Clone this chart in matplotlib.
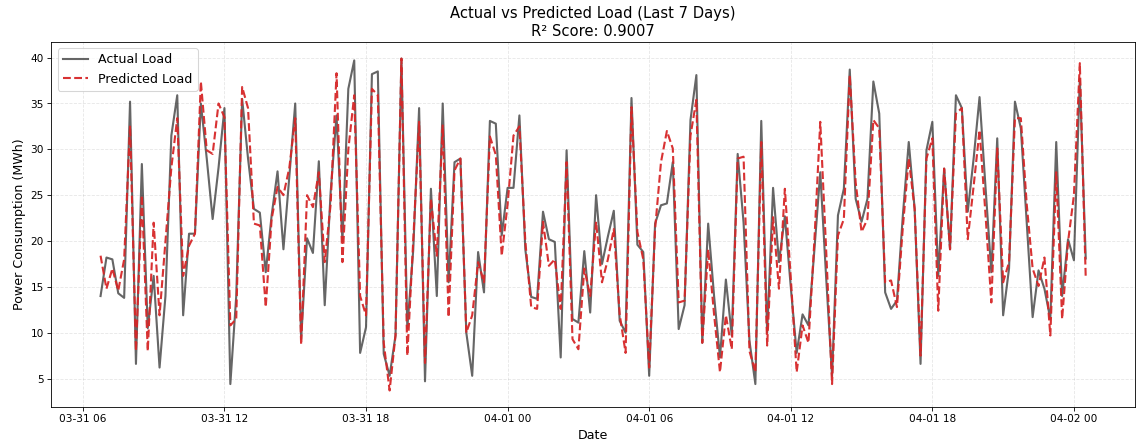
import matplotlib
matplotlib.use('Agg')
import matplotlib.pyplot as plt
import matplotlib.dates as mdates
import pandas as pd

start_time = '2024-03-31 06:45'
interval = '15min'

actual = [14.0, 18.2, 18.0, 14.3, 13.8, 35.2, 6.6, 28.4, 10.5, 16.2,
          6.2, 14.0, 31.5, 35.9, 11.9, 20.8, 20.8, 35.0, 29.0, 22.4,
          28.0, 34.5, 4.4, 14.0, 35.5, 29.0, 23.5, 23.1, 16.6, 22.8,
          27.6, 19.1, 27.0, 35.0, 9.3, 20.3, 18.7, 28.7, 13.0, 25.3,
          33.7, 20.0, 36.6, 39.7, 7.8, 10.6, 38.2, 38.5, 7.7, 5.3,
          9.7, 39.9, 10.5, 19.0, 34.5, 4.7, 25.7, 14.0, 35.0, 15.5,
          28.6, 29.0, 10.0, 5.3, 18.8, 14.4, 33.1, 32.8, 20.6, 25.8,
          25.8, 33.7, 19.1, 13.9, 13.7, 23.2, 20.2, 19.9, 7.3, 29.9,
          11.5, 11.1, 18.9, 12.2, 25.0, 17.5, 20.5, 23.3, 11.3, 10.0,
          35.6, 19.6, 18.8, 5.3, 21.9, 23.9, 24.1, 28.6, 10.4, 13.0,
          33.2, 38.1, 8.9, 21.9, 14.0, 7.3, 15.8, 9.7, 29.5, 22.0,
          9.1, 4.4, 33.1, 10.0, 25.8, 17.7, 22.7, 15.0, 7.8, 12.0,
          10.8, 19.0, 27.5, 16.0, 5.3, 22.8, 25.7, 38.7, 24.6, 22.1,
          24.6, 37.4, 33.9, 14.4, 12.6, 13.5, 22.8, 30.8, 23.5, 6.6,
          29.9, 33.0, 16.2, 27.9, 19.1, 35.9, 34.5, 23.2, 29.0, 35.7,
          26.0, 16.6, 31.2, 11.9, 17.0, 35.2, 32.3, 22.0, 11.7, 16.8,
          14.8, 11.5, 30.8, 14.0, 20.2, 17.9, 37.7, 18.1]

predicted = [18.4, 14.8, 17.0, 14.6, 18.0, 32.6, 8.0, 25.0, 8.0, 22.0,
             11.9, 20.0, 28.0, 33.4, 16.2, 19.5, 20.8, 37.4, 29.9, 29.5,
             35.0, 33.5, 10.8, 11.5, 36.8, 34.5, 21.9, 21.7, 12.8, 22.4,
             25.9, 25.0, 28.0, 33.4, 8.7, 25.0, 23.7, 27.5, 17.7, 24.0,
             38.3, 17.7, 30.0, 35.9, 14.0, 11.9, 36.6, 35.9, 8.9, 3.7,
             9.7, 39.9, 7.5, 20.0, 33.0, 6.7, 24.6, 18.4, 32.6, 11.7,
             27.7, 29.0, 10.0, 11.9, 17.7, 15.5, 31.4, 29.4, 18.4, 24.0,
             31.5, 32.5, 20.0, 12.8, 12.6, 22.1, 17.3, 18.0, 12.6, 28.6,
             9.3, 8.2, 17.0, 14.0, 22.1, 15.5, 18.0, 21.3, 12.0, 7.8,
             34.6, 21.0, 18.0, 6.2, 21.3, 28.6, 32.0, 30.1, 13.3, 13.5,
             31.5, 35.4, 8.9, 19.1, 12.0, 5.7, 11.9, 8.2, 29.0, 29.2,
             8.0, 5.7, 30.8, 8.6, 22.6, 14.8, 25.7, 16.0, 5.7, 10.8,
             8.9, 20.0, 33.0, 19.0, 4.4, 20.6, 22.4, 38.1, 26.4, 21.0,
             22.4, 33.2, 32.3, 15.5, 15.7, 12.8, 21.5, 29.0, 23.5, 7.5,
             29.0, 31.2, 12.4, 27.9, 19.1, 33.9, 34.5, 20.2, 26.0, 32.1,
             23.0, 13.3, 30.1, 15.5, 17.7, 33.4, 33.4, 24.0, 17.0, 15.1,
             18.2, 9.7, 27.5, 11.5, 19.9, 25.0, 39.4, 16.0]

title_text = 'Actual vs Predicted Load (Last 7 Days)\nR\u00b2 Score: 0.9007'

dates = pd.date_range(start_time, periods=len(actual), freq=interval)

fig, ax = plt.subplots(figsize=(15, 5.816), dpi=76)
fig.subplots_adjust(left=0.045, right=0.9956, top=0.905, bottom=0.079)

ax.plot(dates, actual, color='black', alpha=0.6, linewidth=2, label='Actual Load')
ax.plot(dates, predicted, linestyle='--', color='#d62728', alpha=0.95,
        linewidth=2, label='Predicted Load')

ax.set_title(title_text, fontsize=14)
ax.set_xlabel('Date', fontsize=12)
ax.set_ylabel('Power Consumption (MWh)', fontsize=12)
ax.grid(True, linestyle='--', alpha=0.3)
ax.legend(loc='upper left', fontsize=12)
ax.xaxis.set_major_locator(mdates.HourLocator(byhour=[0, 6, 12, 18]))
ax.xaxis.set_major_formatter(mdates.DateFormatter('%m-%d %H'))
ax.tick_params(labelsize=10)

fig.savefig('out.png', dpi=76)
